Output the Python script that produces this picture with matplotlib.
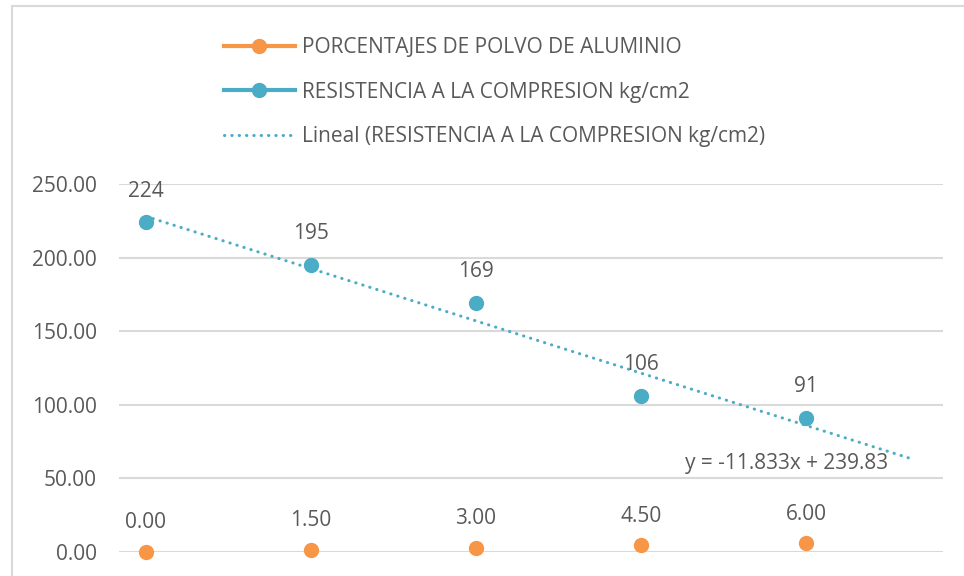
import numpy as np
import matplotlib.pyplot as plt
from matplotlib.lines import Line2D
from matplotlib.patches import Rectangle

# datos
posicion = [1, 2, 3, 4, 5]
porcentaje = [0.00, 1.50, 3.00, 4.50, 6.00]
resistencia = [224, 195, 169, 106, 91]
etiq_porcentaje = ['0.00', '1.50', '3.00', '4.50', '6.00']
etiq_resistencia = ['224', '195', '169', '106', '91']
yticks = [0, 50, 100, 150, 200, 250]
ecuacion = 'y = -11.833x + 239.83'

naranja = '#F79646'
azul = '#4BACC6'
gris = '#595959'
fuente = 'Open Sans'
fs = 15

fig = plt.figure(figsize=(9.64, 5.76), dpi=100)
ax = fig.add_axes([119/964, 1-552/576, (943-119)/964, (552-184)/576])

# marco del grafico
fig.patches.append(Rectangle((12/964, -0.05), 1.1, 1-6/576+0.05, transform=fig.transFigure,
                             fill=False, edgecolor='#D9D9D9', lw=1.5))

ax.plot(posicion, porcentaje, 'o', color=naranja, ms=10, clip_on=False, zorder=4)
ax.plot(posicion, resistencia, 'o', color=azul, ms=10, clip_on=False, zorder=4)

# linea de tendencia lineal (con pronostico hacia adelante)
m, b = np.polyfit(posicion, resistencia, 1)
xt = np.array([1, 5.64])
ax.plot(xt, m*xt + b, color=azul, lw=2.2, dashes=(0.1, 2.3), dash_capstyle='round', zorder=3)

for x, y, t in zip(posicion, porcentaje, etiq_porcentaje):
    ax.annotate(t, (x, y), xytext=(0, 21), textcoords='offset points', ha='center', va='center',
                fontsize=fs, color=gris, family=fuente, annotation_clip=False)
for x, y, t in zip(posicion, resistencia, etiq_resistencia):
    ax.annotate(t, (x, y), xytext=(0, 22.5), textcoords='offset points', ha='center', va='center',
                fontsize=fs, color=gris, family=fuente)
ax.text(4.88, 60, ecuacion, ha='center', va='center', fontsize=fs, color=gris, family=fuente)

ax.set_xlim(1 - 27/165, 5 + 137/165)
ax.set_ylim(0, 250)
ax.set_yticks(yticks)
ax.set_yticklabels(['%.2f' % v for v in yticks], fontsize=fs, color=gris, family=fuente)
ax.set_xticks([])
ax.tick_params(axis='y', length=0, pad=16)
ax.grid(axis='y', color='#D9D9D9', lw=1.5)
ax.set_axisbelow(True)
for s in ax.spines.values():
    s.set_visible(False)

handles = [Line2D([], [], color=naranja, lw=3, marker='o', ms=10),
           Line2D([], [], color=azul, lw=3, marker='o', ms=10),
           Line2D([], [], color=azul, lw=2.2, dashes=(0.1, 2.3), dash_capstyle='round')]
labels = ['PORCENTAJES DE POLVO DE ALUMINIO',
          'RESISTENCIA A LA COMPRESION kg/cm2',
          'Lineal (RESISTENCIA A LA COMPRESION kg/cm2)']
fig.legend(handles, labels, loc='upper left', bbox_to_anchor=(224/964, 1-37/576), frameon=False,
           borderpad=0, borderaxespad=0, handlelength=3.4, handletextpad=0.34, labelspacing=1.13,
           prop={'family': fuente, 'size': fs}, labelcolor=gris)

plt.savefig('out.png', dpi=100)
